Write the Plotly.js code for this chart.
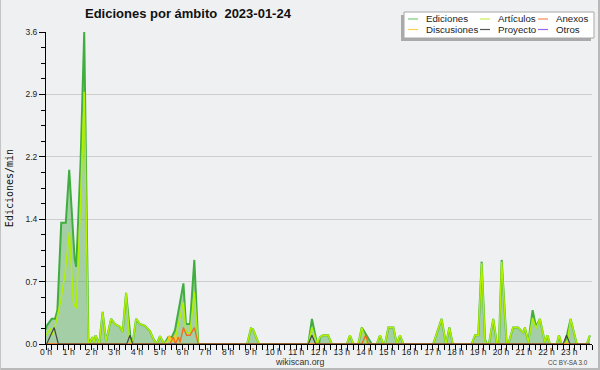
<!DOCTYPE html>
<html>
<head>
<meta charset="utf-8">
<script src="https://cdn.plot.ly/plotly-3.0.1.min.js"></script>
<style>html,body{margin:0;padding:0;background:#eff0f1;}#chart{width:600px;height:370px;}</style>
</head>
<body>
<div id="chart"></div>
<script>
// ---- data (hour of day, edits per minute) ----
const hourTicks = [0,1,2,3,4,5,6,7,8,9,10,11,12,13,14,15,16,17,18,19,20,21,22,23];
const hourLabels = ['0 h','1 h','2 h','3 h','4 h','5 h','6 h','7 h','8 h','9 h','10 h','11 h','12 h','13 h','14 h','15 h','16 h','17 h','18 h','19 h','20 h','21 h','22 h','23 h'];
const yTickVals = [0, 0.72, 1.44, 2.16, 2.88, 3.6];
const yTickText = ['0.0','0.7','1.4','2.2','2.9','3.6'];

const ediciones = [[0,0.17],[0.03,0.21],[0.25,0.29],[0.40,0.29],[0.50,0.39],[0.67,1.40],[0.87,1.40],[1.02,2.01],[1.26,0.98],[1.33,0.89],[1.52,2.10],[1.68,3.60],[1.86,0.08],[1.89,0],[2.04,0.08],[2.11,0.02],[2.18,0.10],[2.34,0],[2.49,0.37],[2.64,0.03],[2.86,0.29],[3.03,0.23],[3.25,0.20],[3.37,0.14],[3.52,0.59],[3.71,0.08],[3.81,0.02],[3.96,0.29],[4.13,0.23],[4.35,0.21],[4.57,0.15],[4.72,0.06],[4.87,0],[5.01,0.09],[5.19,0],[5.38,0.08],[5.53,0.08],[5.67,0.16],[6.04,0.70],[6.15,0.23],[6.33,0.23],[6.52,0.97],[6.69,0],[8.84,0],[9.01,0.18],[9.10,0.17],[9.36,0],[11.53,0],[11.69,0.29],[11.91,0.01],[12.00,0],[12.04,0.08],[12.18,0.10],[12.40,0.10],[12.56,0],[13.22,0],[13.36,0.10],[13.51,0],[13.73,0],[13.88,0.19],[14.02,0.13],[14.09,0.10],[14.32,0],[14.54,0],[14.68,0.10],[14.83,0],[14.90,0],[15.05,0.19],[15.27,0.19],[15.42,0],[15.56,0.10],[15.71,0],[17.02,0],[17.39,0.29],[17.58,0],[17.73,0.19],[17.88,0],[18.71,0],[18.86,0.10],[19.00,0.10],[19.15,0.95],[19.30,0.05],[19.38,0],[19.47,0],[19.66,0.29],[19.82,0],[19.91,0],[20.03,0.97],[20.25,0],[20.32,0],[20.53,0.19],[20.75,0.19],[20.98,0.13],[21.05,0.19],[21.20,0.02],[21.39,0.39],[21.54,0.20],[21.71,0.29],[21.93,0.02],[22.04,0.10],[22.15,0],[22.45,0],[22.55,0.10],[22.66,0],[22.81,0],[23.06,0.29],[23.33,0],[23.77,0],[23.91,0.10]];

const articulos = [[0,0.10],[0.20,0.18],[0.31,0.10],[0.44,0.25],[0.65,0.50],[0.84,0.82],[1.03,1.29],[1.20,0.48],[1.33,0.41],[1.49,1.45],[1.68,2.91],[1.86,0],[1.89,0],[2.04,0.08],[2.11,0.02],[2.18,0.10],[2.34,0],[2.49,0.37],[2.64,0.03],[2.86,0.29],[3.03,0.23],[3.25,0.20],[3.37,0.14],[3.52,0.59],[3.69,0],[3.81,0.02],[3.96,0.29],[4.13,0.23],[4.35,0.21],[4.57,0.15],[4.72,0.06],[4.87,0],[5.01,0.09],[5.19,0],[5.38,0.05],[5.53,0.03],[5.67,0.05],[6.04,0.48],[6.15,0.13],[6.33,0.13],[6.52,0.60],[6.69,0],[8.84,0],[9.01,0.18],[9.10,0.17],[9.36,0],[11.53,0],[11.69,0.19],[11.91,0],[12.04,0.08],[12.18,0.10],[12.40,0.10],[12.56,0],[13.22,0],[13.36,0.10],[13.51,0],[13.73,0],[13.88,0.19],[14.09,0],[14.54,0],[14.68,0.10],[14.83,0],[14.90,0],[15.05,0.19],[15.27,0.19],[15.42,0],[15.56,0.10],[15.71,0],[17.02,0],[17.39,0.29],[17.58,0],[17.73,0.19],[17.88,0],[18.71,0],[18.86,0.10],[19.00,0.10],[19.15,0.93],[19.30,0.03],[19.38,0],[19.47,0],[19.66,0.29],[19.82,0],[19.91,0],[20.03,0.95],[20.25,0],[20.32,0],[20.53,0.19],[20.75,0.19],[20.98,0.13],[21.05,0.19],[21.20,0.02],[21.39,0.30],[21.54,0.18],[21.71,0.29],[21.93,0.02],[22.04,0.10],[22.15,0],[22.45,0],[22.55,0.10],[22.66,0],[22.81,0],[22.93,0.05],[23.06,0.29],[23.33,0],[23.77,0],[23.91,0.10]];

const anexos = [[0,0],[5.45,0],[5.60,0.08],[5.69,0],[5.82,0.08],[5.89,0.02],[6.04,0.19],[6.18,0.10],[6.33,0.10],[6.52,0.19],[6.69,0],[13.88,0],[14.05,0.10],[14.17,0],[23.91,0]];
const discusiones = [[0,0],[5.31,0],[5.42,0.10],[5.53,0.03],[5.67,0.10],[5.82,0],[23.91,0]];
const proyecto = [[0,0],[0.03,0],[0.36,0.19],[0.54,0],[3.55,0],[3.69,0.10],[3.81,0],[11.53,0],[11.69,0.10],[11.85,0],[22.73,0],[22.88,0.10],[23.03,0],[23.91,0]];
const otros = [[0,0],[23.91,0]];

// ---- styles ----
const C = {
  ediciones: '#3fae3f', fill: 'rgba(60,160,60,0.42)',
  articulos: '#b0f000', anexos: '#f26a22', discusiones: '#ffc820',
  proyecto: '#454545', otros: '#8a4cf0'
};
const xs = a => a.map(p => p[0]);
const ys = a => a.map(p => p[1]);

function line(name, pts, color, width) {
  return {type:'scatter', mode:'lines', name:name, x:xs(pts), y:ys(pts),
          line:{color:color, width:width}, hoverinfo:'x+y+name'};
}

const traces = [
  {type:'scatter', mode:'lines', name:'Ediciones', x:xs(ediciones), y:ys(ediciones),
   fill:'tozeroy', fillcolor:C.fill, line:{width:0, color:C.fill}, showlegend:false, hoverinfo:'skip'},
  line('Otros', otros, C.otros, 1.2),
  line('Ediciones', ediciones, C.ediciones, 2),
  line('Artículos', articulos, C.articulos, 1.5),
  line('Discusiones', discusiones, C.discusiones, 1.3),
  line('Anexos', anexos, C.anexos, 1.3),
  line('Proyecto', proyecto, C.proyecto, 1.2)
];

// pixel helpers for page furniture
const L = 46, R = 592, T = 32, B = 344;
const px = p => (p - L) / (R - L);
const py = q => (B - q) / (B - T);

const FONT = 'Liberation Sans, Arial, sans-serif';
const shapes = [
  {type:'rect', xref:'paper', yref:'paper', x0:px(598), x1:px(600), y0:py(0), y1:py(370), fillcolor:'#b9b9b9', line:{width:0}, layer:'above'},
  {type:'rect', xref:'paper', yref:'paper', x0:px(0), x1:px(600), y0:py(368), y1:py(370), fillcolor:'#b9b9b9', line:{width:0}, layer:'above'},
  {type:'line', xref:'paper', yref:'paper', x0:px(0.5), x1:px(0.5), y0:py(0), y1:py(370), line:{color:'#c4c4c4', width:1}, layer:'above'},
  // legend shadow + box
  {type:'rect', xref:'paper', yref:'paper', x0:px(401), x1:px(591), y0:py(15), y1:py(41), fillcolor:'#aaaaaa', line:{width:0}, layer:'above'},
  {type:'rect', xref:'paper', yref:'paper', x0:px(404), x1:px(594), y0:py(12), y1:py(38), fillcolor:'#ffffff', line:{color:'#a8a8a8', width:1}, layer:'above'}
];
const legendItems = [
  ['Ediciones', '#7ccc7c', 408, 19], ['Artículos', '#c8ee50', 480, 19], ['Anexos', '#f5875a', 538, 19],
  ['Discusiones', '#f8d050', 408, 29.5], ['Proyecto', '#555555', 480, 29.5], ['Otros', '#9a66f0', 538, 29.5]
];
const annotations = [];
legendItems.forEach(([name, col, x, y]) => {
  shapes.push({type:'line', xref:'paper', yref:'paper', x0:px(x), x1:px(x+10), y0:py(y), y1:py(y), line:{color:col, width:1.2}, layer:'above'});
  annotations.push({xref:'paper', yref:'paper', x:px(x+16), y:py(y), xanchor:'left', yanchor:'middle', showarrow:false,
    text:name, font:{family:FONT, size:9.7, color:'#222'}});
});
annotations.push({xref:'paper', yref:'paper', x:px(300), y:py(361.5), xanchor:'center', yanchor:'middle', showarrow:false,
  text:'wikiscan.org', font:{family:FONT, size:8.8, color:'#333'}});
annotations.push({xref:'paper', yref:'paper', x:px(590), y:py(362), xanchor:'right', yanchor:'middle', showarrow:false,
  text:'CC BY-SA 3.0', font:{family:FONT, size:6.3, color:'#444'}});

const layout = {
  width:600, height:370,
  margin:{l:L, r:600-R, t:T, b:370-B, pad:0},
  paper_bgcolor:'#eff0f1', plot_bgcolor:'#eff0f1',
  showlegend:false,
  title:{text:'Ediciones por ámbito\u00a0\u00a02023-01-24', xref:'container', yref:'container',
         x:85/600, xanchor:'left', y:1-13.5/370, yanchor:'middle',
         font:{family:FONT, size:13, color:'#111', weight:'bold'}},
  xaxis:{range:[0,24], tickmode:'array', tickvals:hourTicks, ticktext:hourLabels, ticks:'',
         showline:true, linecolor:'#000', linewidth:1, showgrid:false, zeroline:false,
         tickfont:{family:FONT, size:8.5, color:'#222'},
         minor:{tickmode:'linear', tick0:0, dtick:0.25, ticks:'outside', ticklen:5, tickcolor:'#000', tickwidth:1, showgrid:false},
         fixedrange:true},
  yaxis:{range:[0,3.6], tickmode:'array', tickvals:yTickVals, ticktext:yTickText, ticks:'outside', ticklen:6,
         tickcolor:'#000', showline:true, linecolor:'#000', linewidth:1, showgrid:true, gridcolor:'#cdcdcd', gridwidth:1,
         zeroline:false, tickfont:{family:FONT, size:8.5, color:'#222'},
         minor:{tickmode:'linear', tick0:0, dtick:0.18, ticks:'outside', ticklen:4, tickcolor:'#000', tickwidth:1, showgrid:false},
         title:{text:'Ediciones/min', font:{family:'DejaVu Sans Mono, monospace', size:10, color:'#111'}, standoff:9},
         fixedrange:true},
  shapes:shapes,
  annotations:annotations
};

Plotly.newPlot('chart', traces, layout, {displayModeBar:false, staticPlot:true});
</script>
</body>
</html>
